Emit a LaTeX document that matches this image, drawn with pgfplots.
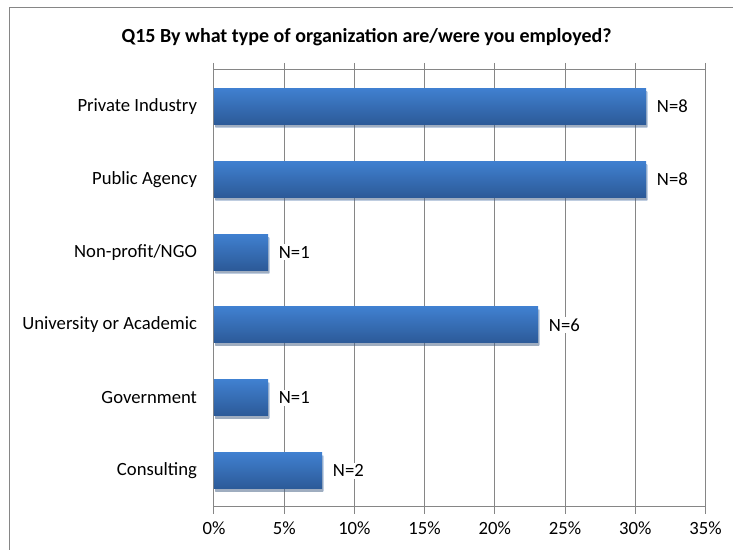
\documentclass[border=0pt]{standalone}
\usepackage{pgfplots}
\pgfplotsset{compat=1.18}
\usepackage{fontspec}
\setmainfont{Carlito}
\usetikzlibrary{shadows}
\definecolor{gridgray}{RGB}{134,134,134}
\definecolor{bartop}{RGB}{64,128,208}
\definecolor{barbot}{RGB}{44,90,152}
\begin{document}
\begin{tikzpicture}
\useasboundingbox (0,0) rectangle (549.75pt,412.5pt);
\draw[gridgray, line width=0.75pt] (6.75pt,-2pt) -- (6.75pt,406.5pt) -- (552pt,406.5pt);
\node[font=\fontsize{15}{18}\selectfont\bfseries] at (274.9pt,384.75pt) {Q15 By what type of organization are/were you employed?};
\begin{axis}[
  at={(160.5pt,32.25pt)}, anchor=south west,
  width=368.6pt, height=327.75pt, scale only axis,
  xbar, bar width=27pt, bar shift=0pt,
  xmin=0, xmax=35, ymin=-0.5, ymax=5.5,
  xtick={0,5,...,35},
  xticklabel={\pgfmathprintnumber{\tick}\%},
  /pgf/number format/assume math mode=true,
  ytick={0,...,5},
  yticklabels={Consulting,Government,University or Academic,Non-profit/NGO,Public Agency,Private Industry},
  minor ytick={-0.5,0.5,...,5.5},
  tick align=outside,
  major tick length=5.25pt, minor tick length=5.25pt,
  ytick style={draw=none},
  minor tick style={draw=gridgray, line width=0.75pt},
  xtick style={draw=gridgray, line width=0.75pt},
  xmajorgrids, major grid style={gridgray, line width=0.75pt},
  axis line style={gridgray, line width=0.75pt},
  tick label style={font=\fontsize{14}{16}\selectfont, text=black},
  yticklabel style={xshift=-4pt},
  xticklabel style={yshift=-2pt},
  nodes near coords, point meta=explicit symbolic,
  every node near coord/.append style={font=\fontsize{14}{16}\selectfont, anchor=west, xshift=6.5pt, fill=white, inner sep=1.5pt, text=black},
  barstyle/.style={draw=none, top color=bartop, bottom color=barbot, drop shadow={shadow xshift=1pt, shadow yshift=-2.25pt, opacity=0.3, fill=black!60}},
  clip=false,
]
\addplot[barstyle] coordinates {(7.692,0) [N=2]};
\addplot[barstyle] coordinates {(3.846,1) [N=1]};
\addplot[barstyle] coordinates {(23.077,2) [N=6]};
\addplot[barstyle] coordinates {(3.846,3) [N=1]};
\addplot[barstyle] coordinates {(30.769,4) [N=8]};
\addplot[barstyle] coordinates {(30.769,5) [N=8]};
\end{axis}
\end{tikzpicture}
\end{document}
